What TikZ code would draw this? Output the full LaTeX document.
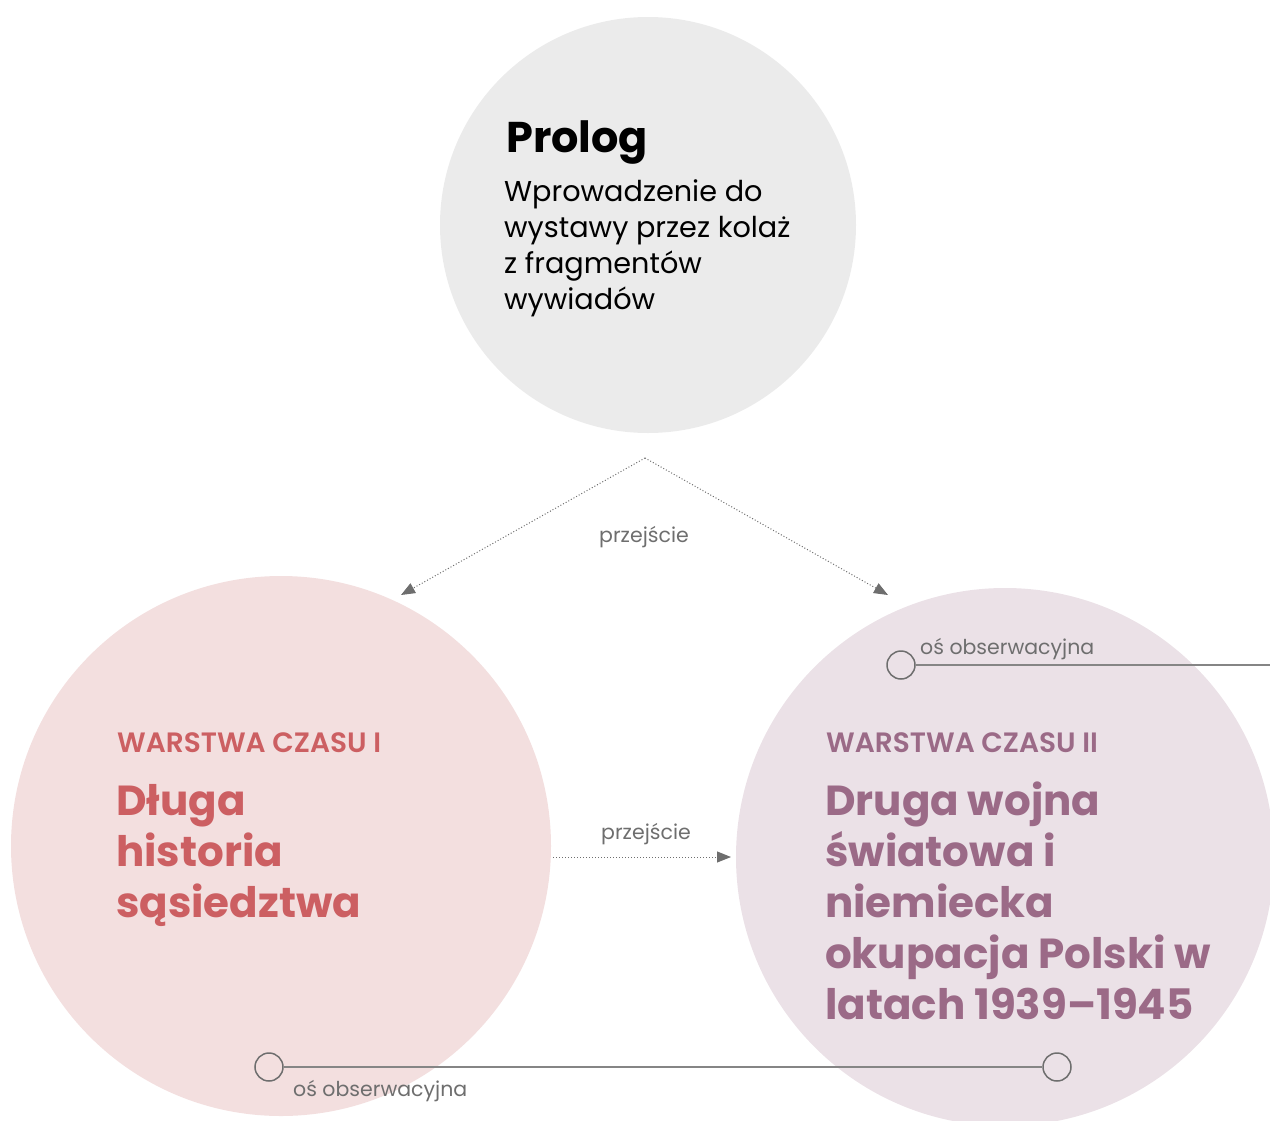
\documentclass[tikz,border=0pt]{standalone}
\usepackage{fontspec}
\setmainfont{Poppins}
\newfontfamily\popsb{Poppins}[UprightFont=* SemiBold]
\usetikzlibrary{arrows.meta}
\definecolor{cgrey}{HTML}{EBEBEB}
\definecolor{cpink}{HTML}{F3DFDF}
\definecolor{cmauve}{HTML}{EBE1E7}
\definecolor{tred}{HTML}{CC5F62}
\definecolor{tpurple}{HTML}{9B6A87}
\definecolor{lgrey}{HTML}{6E6E6E}
\definecolor{axgrey}{HTML}{858585}
\tikzset{
  bigcircle/.style={circle, inner sep=0pt, minimum size=#1},
  trans/.style={draw=lgrey, line width=1pt, dotted, -{Triangle[length=14pt,width=11pt]}},
  axis/.style={draw=axgrey, line width=2pt},
  axend/.style={circle, draw=lgrey, line width=1.5pt, minimum size=28pt, inner sep=0pt},
  smalllab/.style={text=lgrey, font=\fontsize{20.5}{24}\selectfont, inner sep=0pt},
  kicker/.style={font=\popsb\fontsize{28}{30}\selectfont, inner sep=0pt, anchor=base west},
  title/.style={font=\bfseries\fontsize{42}{51}\selectfont, inner sep=0pt, anchor=base west, align=left},
}
\begin{document}
\begin{tikzpicture}[x=1pt,y=-1pt]
\useasboundingbox (0,0) rectangle (1270,1120);
\begin{scope}
\clip (0,0) rectangle (1270,1120);
\node[bigcircle=416pt, fill=cgrey] (prolog) at (648,225) {};
\node[bigcircle=540pt, fill=cpink] (warstwa1) at (281,846) {};
\node[bigcircle=538pt, fill=cmauve] (warstwa2) at (1005,857) {};
\end{scope}

% Prolog text (base anchor = last line's baseline)
\node[font=\bfseries\fontsize{43}{46}\selectfont, inner sep=0pt, anchor=base west] (prologtitle) at (506,152) {Prolog};
\node[font=\fontsize{28.7}{36}\selectfont, inner sep=0pt, anchor=base west, align=left] (prologtext) at (504,309)
  {Wprowadzenie do\\wystawy przez kolaż\\z fragmentów\\wywiadów};

% Left circle text
\node[kicker, text=tred] (k1) at (117,752) {WARSTWA CZASU I};
\node[title, text=tred] (t1) at (116,917) {Długa\\historia\\sąsiedztwa};

% Right circle text
\node[kicker, text=tpurple] (k2) at (826,752) {WARSTWA CZASU II};
\node[title, text=tpurple] (t2) at (825,1019) {Druga wojna\\światowa i\\niemiecka\\okupacja Polski w\\latach 1939–1945};

% transitions
\coordinate (apex) at (645,458);
\coordinate (leftin) at (401,595);
\coordinate (rightin) at (888,595);
\draw[trans] (apex) -- (leftin);
\draw[trans] (apex) -- (rightin);
\node[smalllab, anchor=base] (p1) at (644,542) {przejście};
\coordinate (hstart) at (553,857);
\coordinate (hend) at (731,857);
\draw[trans] (hstart) -- (hend);
\node[smalllab, anchor=base] (p2) at (646,839) {przejście};

% observation axes
\node[axend] (o1) at (901,665) {};
\coordinate (o1end) at (1270,665);
\draw[axis] (o1) -- (o1end);
\node[smalllab, anchor=base west] (l1) at (920,654) {oś obserwacyjna};

\node[axend] (o2a) at (269,1067) {};
\node[axend] (o2b) at (1057,1067) {};
\draw[axis] (o2a) -- (o2b);
\node[smalllab, anchor=base west] (l2) at (293,1096) {oś obserwacyjna};
\end{tikzpicture}
\end{document}
